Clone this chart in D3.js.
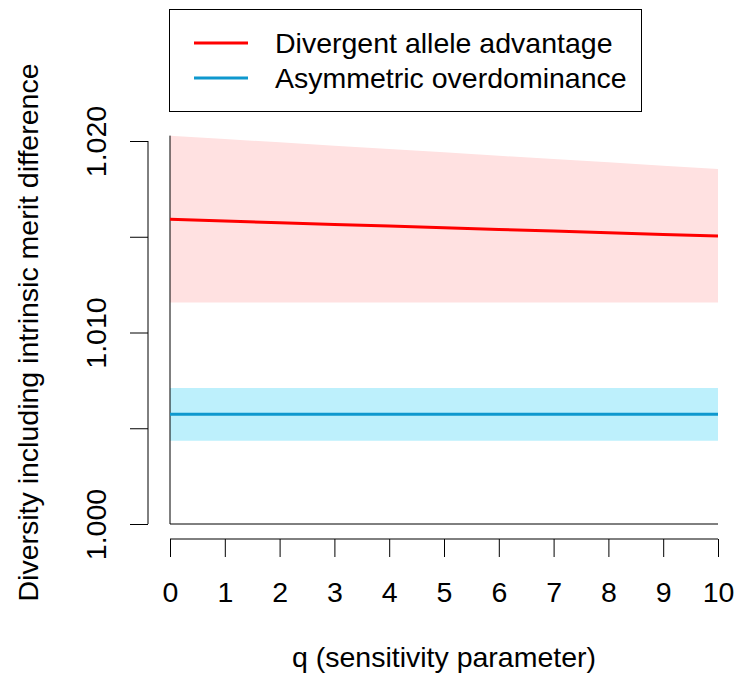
<!DOCTYPE html>
<html>
<head>
<meta charset="utf-8">
<script src="https://cdn.jsdelivr.net/npm/d3@7"></script>
<style>
  body { margin: 0; background: #fff; }
  svg { font-family: "Liberation Sans", Arial, Helvetica, sans-serif; }
</style>
</head>
<body>
<div id="chart"></div>
<script>
//Datos
const Q_VALUES = [0, 1, 2, 3, 4, 5, 6, 7, 8, 9, 10];
const DIVERGENT_MEAN = [1.01591, 1.01582, 1.01573, 1.01564, 1.01556, 1.01547, 1.01538, 1.01530, 1.01521, 1.01512, 1.01504];
const DIVERGENT_UPPER = [1.02028, 1.02010, 1.01993, 1.01975, 1.01958, 1.01941, 1.01923, 1.01906, 1.01889, 1.01871, 1.01854];
const DIVERGENT_LOWER = [1.01157, 1.01157, 1.01157, 1.01157, 1.01157, 1.01157, 1.01157, 1.01157, 1.01157, 1.01157, 1.01157];
const ASYM_MEAN = [1.00573, 1.00573, 1.00573, 1.00573, 1.00573, 1.00573, 1.00573, 1.00573, 1.00573, 1.00573, 1.00573];
const ASYM_UPPER = [1.00710, 1.00710, 1.00710, 1.00710, 1.00710, 1.00710, 1.00710, 1.00710, 1.00710, 1.00710, 1.00710];
const ASYM_LOWER = [1.00435, 1.00435, 1.00435, 1.00435, 1.00435, 1.00435, 1.00435, 1.00435, 1.00435, 1.00435, 1.00435];
const Y_TICKS = [1.000, 1.005, 1.010, 1.015, 1.020];
const Y_TICK_LABELS = ['1.000', '', '1.010', '', '1.020'];
const X_TICKS = [0, 1, 2, 3, 4, 5, 6, 7, 8, 9, 10];
const SERIES_NAMES = ['Divergent allele advantage', 'Asymmetric overdominance'];

//Colores
const COLOR_RED = '#FF0000';
const COLOR_RED_BAND = '#FFE1E1';
const COLOR_BLUE = '#0E98CE';
const COLOR_BLUE_BAND = '#BDF0FC';
const FONT_SIZE = '28.5px';

let width = 741, height = 679;

let svg = d3.select('#chart')
    .append('svg')
    .attr('width', width)
    .attr('height', height);

let x = d3.scaleLinear()
    .domain([0, 10])
    .range([170, 718]);

let y = d3.scaleLinear()
    .domain([1.000, 1.020])
    .range([524, 141]);

let divergent = Q_VALUES.map(function(q, i) {
    return { q: q, mean: DIVERGENT_MEAN[i], upper: DIVERGENT_UPPER[i], lower: DIVERGENT_LOWER[i] };
});
let asym = Q_VALUES.map(function(q, i) {
    return { q: q, mean: ASYM_MEAN[i], upper: ASYM_UPPER[i], lower: ASYM_LOWER[i] };
});

let area = d3.area()
    .x(function(d) { return x(d.q); })
    .y0(function(d) { return y(d.lower); })
    .y1(function(d) { return y(d.upper); });

let line = d3.line()
    .x(function(d) { return x(d.q); })
    .y(function(d) { return y(d.mean); });

//Bandas
svg.append('path').datum(divergent)
    .attr('d', area)
    .attr('fill', COLOR_RED_BAND);
svg.append('path').datum(asym)
    .attr('d', area)
    .attr('fill', COLOR_BLUE_BAND);

//Lineas de referencia (borde izquierdo e inferior)
svg.append('line')
    .attr('x1', x(0)).attr('x2', x(0))
    .attr('y1', y(DIVERGENT_UPPER[0])).attr('y2', y(1.000))
    .attr('stroke', '#000').attr('stroke-width', 1);
svg.append('line')
    .attr('x1', x(0)).attr('x2', x(10))
    .attr('y1', y(1.000)).attr('y2', y(1.000))
    .attr('stroke', '#000').attr('stroke-width', 1);

//Lineas
svg.append('path').datum(divergent)
    .attr('d', line)
    .attr('fill', 'none')
    .attr('stroke', COLOR_RED)
    .attr('stroke-width', 3);
svg.append('path').datum(asym)
    .attr('d', line)
    .attr('fill', 'none')
    .attr('stroke', COLOR_BLUE)
    .attr('stroke-width', 3);

//Eje Y
let yAxis = svg.append('g')
    .attr('transform', 'translate(148,0)')
    .call(d3.axisLeft(y).tickValues(Y_TICKS).tickSize(18).tickFormat(''));
yAxis.select('.domain').attr('d', 'M0,' + y(1.000) + 'V' + y(1.020)).attr('stroke', '#000');
yAxis.selectAll('.tick line').attr('stroke', '#000');
yAxis.selectAll('.tick').append('text')
    .attr('transform', 'rotate(-90)')
    .attr('x', 0)
    .attr('y', -42)
    .attr('text-anchor', 'middle')
    .attr('fill', '#000')
    .style('font-size', FONT_SIZE)
    .text(function(d, i) { return Y_TICK_LABELS[i]; });

//Eje X
let xAxis = svg.append('g')
    .attr('transform', 'translate(0,539)')
    .call(d3.axisBottom(x).tickValues(X_TICKS).tickSize(18).tickPadding(0));
xAxis.select('.domain').attr('d', 'M' + x(0) + ',0H' + x(10)).attr('stroke', '#000');
xAxis.selectAll('.tick line').attr('stroke', '#000');
xAxis.selectAll('.tick text')
    .attr('y', 63)
    .attr('dy', null)
    .attr('fill', '#000')
    .style('font-size', FONT_SIZE);

//Titulos
svg.append('text')
    .attr('x', (x(0) + x(10)) / 2)
    .attr('y', 667)
    .attr('text-anchor', 'middle')
    .style('font-size', FONT_SIZE)
    .text('q (sensitivity parameter)');

svg.append('text')
    .attr('transform', 'translate(38,' + ((y(1.000) + y(1.020)) / 2) + ') rotate(-90)')
    .attr('text-anchor', 'middle')
    .style('font-size', FONT_SIZE)
    .text('Diversity including intrinsic merit difference');

//Leyenda
let legend = svg.append('g');
legend.append('rect')
    .attr('x', 169.5).attr('y', 9.5)
    .attr('width', 472).attr('height', 102)
    .attr('fill', '#fff')
    .attr('stroke', '#000');
let legendColors = [COLOR_RED, COLOR_BLUE];
SERIES_NAMES.forEach(function(name, i) {
    let ly = 43 + i * 35;
    legend.append('line')
        .attr('x1', 194).attr('x2', 248)
        .attr('y1', ly).attr('y2', ly)
        .attr('stroke', legendColors[i])
        .attr('stroke-width', 3);
    legend.append('text')
        .attr('x', 275)
        .attr('y', ly + 10)
        .style('font-size', FONT_SIZE)
        .text(name);
});
</script>
</body>
</html>
